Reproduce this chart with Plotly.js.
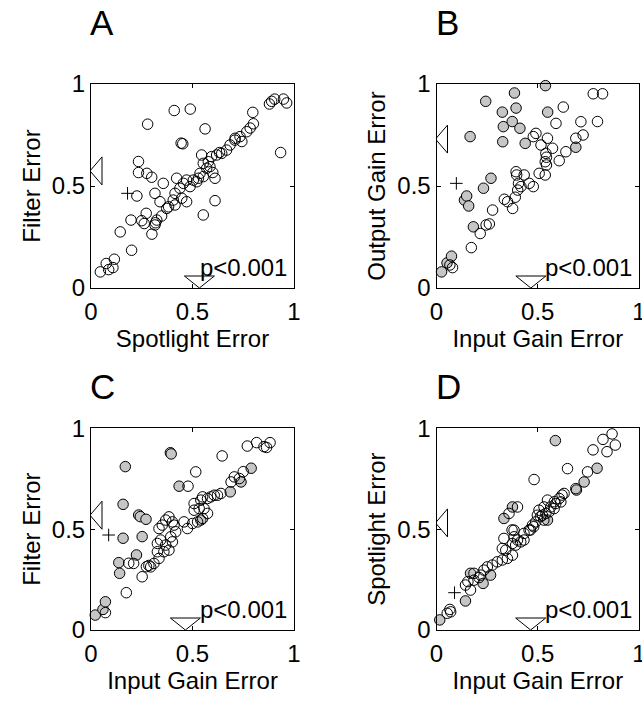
<!DOCTYPE html>
<html>
<head>
<meta charset="utf-8">
<script src="https://cdn.plot.ly/plotly-3.0.1.min.js"></script>
<style>html,body{margin:0;padding:0;background:#fff;}#chart{width:642px;height:702px;}</style>
</head>
<body>
<div id="chart"></div>
<script>
// ---------- data ----------
const panelLetters = ['A', 'B', 'C', 'D'];
const xTitles = ['Spotlight Error', 'Input Gain Error', 'Input Gain Error', 'Input Gain Error'];
const yTitles = ['Filter Error', 'Output Gain Error', 'Filter Error', 'Spotlight Error'];
const pTexts = ['p<0.001', 'p<0.001', 'p<0.001', 'p<0.001'];
const tickVals = [0, 0.5, 1];
const tickText = ['0', '0.5', '1'];

// [x, y] pairs, open circles
const aOpen = [[0.046,0.079],[0.075,0.12],[0.087,0.09],[0.108,0.10],[0.115,0.141],[0.144,0.275],[0.20,0.185],[0.197,0.333],[0.226,0.451],[0.234,0.62],[0.234,0.566],[0.275,0.562],[0.299,0.543],[0.279,0.803],[0.25,0.33],[0.262,0.316],[0.272,0.366],[0.30,0.264],[0.315,0.464],[0.318,0.32],[0.324,0.333],[0.34,0.423],[0.348,0.353],[0.356,0.513],[0.373,0.39],[0.382,0.398],[0.41,0.87],[0.489,0.877],[0.405,0.431],[0.414,0.407],[0.414,0.464],[0.422,0.538],[0.438,0.489],[0.444,0.71],[0.452,0.707],[0.447,0.44],[0.455,0.513],[0.471,0.423],[0.471,0.529],[0.488,0.497],[0.504,0.529],[0.529,0.538],[0.537,0.562],[0.545,0.652],[0.553,0.358],[0.553,0.546],[0.553,0.611],[0.562,0.78],[0.57,0.587],[0.578,0.619],[0.586,0.595],[0.594,0.644],[0.611,0.428],[0.611,0.538],[0.619,0.652],[0.644,0.66],[0.668,0.676],[0.685,0.701],[0.709,0.725],[0.734,0.742],[0.767,0.766],[0.784,0.784],[0.80,0.805],[0.797,0.861],[0.879,0.902],[0.89,0.915],[0.905,0.926],[0.948,0.926],[0.964,0.907],[0.934,0.664],[0.315,0.309],[0.60,0.566],[0.633,0.664],[0.71,0.734],[0.743,0.718],[0.521,0.521]];
const aGrey = [];

const bOpen = [[0.066,0.113],[0.079,0.10],[0.172,0.198],[0.216,0.267],[0.245,0.309],[0.261,0.314],[0.277,0.382],[0.335,0.435],[0.351,0.423],[0.376,0.39],[0.389,0.445],[0.393,0.57],[0.396,0.554],[0.401,0.48],[0.405,0.513],[0.417,0.497],[0.433,0.554],[0.458,0.513],[0.478,0.497],[0.478,0.742],[0.491,0.758],[0.507,0.562],[0.516,0.701],[0.537,0.554],[0.537,0.619],[0.543,0.603],[0.543,0.641],[0.54,0.66],[0.548,0.734],[0.573,0.685],[0.59,0.807],[0.606,0.624],[0.626,0.887],[0.639,0.668],[0.688,0.734],[0.724,0.75],[0.713,0.815],[0.774,0.952],[0.82,0.952],[0.795,0.816]];
const bGrey = [[0.025,0.079],[0.052,0.123],[0.074,0.156],[0.138,0.431],[0.149,0.451],[0.159,0.402],[0.166,0.742],[0.182,0.30],[0.232,0.489],[0.243,0.915],[0.269,0.538],[0.325,0.862],[0.327,0.717],[0.33,0.791],[0.374,0.816],[0.385,0.956],[0.393,0.882],[0.412,0.783],[0.438,0.709],[0.538,0.992],[0.549,0.862],[0.688,0.69]];

const cOpen = [[0.071,0.086],[0.174,0.185],[0.186,0.331],[0.21,0.33],[0.252,0.264],[0.273,0.314],[0.285,0.32],[0.294,0.313],[0.31,0.33],[0.335,0.355],[0.327,0.388],[0.359,0.388],[0.384,0.396],[0.368,0.421],[0.327,0.429],[0.343,0.446],[0.401,0.437],[0.393,0.462],[0.417,0.487],[0.335,0.503],[0.351,0.52],[0.368,0.545],[0.409,0.52],[0.401,0.536],[0.384,0.561],[0.458,0.536],[0.475,0.503],[0.5,0.528],[0.525,0.536],[0.55,0.553],[0.574,0.578],[0.557,0.602],[0.533,0.602],[0.508,0.594],[0.508,0.627],[0.541,0.644],[0.55,0.66],[0.574,0.652],[0.59,0.66],[0.607,0.668],[0.623,0.668],[0.64,0.677],[0.69,0.734],[0.706,0.759],[0.731,0.751],[0.75,0.785],[0.478,0.713],[0.516,0.784],[0.646,0.863],[0.77,0.912],[0.816,0.929],[0.852,0.909],[0.865,0.905],[0.882,0.929]];
const cGrey = [[0.021,0.074],[0.059,0.102],[0.071,0.14],[0.137,0.334],[0.141,0.281],[0.158,0.455],[0.158,0.623],[0.169,0.81],[0.224,0.372],[0.235,0.57],[0.243,0.562],[0.271,0.549],[0.252,0.463],[0.391,0.879],[0.395,0.873],[0.434,0.713],[0.686,0.685],[0.789,0.802],[0.739,0.734],[0.541,0.545]];

const dOpen = [[0.053,0.083],[0.066,0.102],[0.07,0.09],[0.143,0.223],[0.168,0.198],[0.155,0.24],[0.185,0.247],[0.185,0.281],[0.21,0.26],[0.218,0.272],[0.234,0.297],[0.251,0.313],[0.276,0.322],[0.3,0.338],[0.325,0.347],[0.35,0.355],[0.375,0.371],[0.342,0.396],[0.325,0.404],[0.333,0.454],[0.375,0.429],[0.391,0.421],[0.4,0.446],[0.416,0.437],[0.432,0.446],[0.383,0.462],[0.383,0.495],[0.432,0.479],[0.457,0.495],[0.474,0.52],[0.49,0.536],[0.498,0.569],[0.523,0.569],[0.54,0.578],[0.556,0.586],[0.581,0.602],[0.506,0.594],[0.531,0.61],[0.564,0.61],[0.548,0.644],[0.589,0.627],[0.614,0.635],[0.606,0.652],[0.63,0.677],[0.688,0.701],[0.358,0.578],[0.4,0.61],[0.482,0.746],[0.647,0.80],[0.746,0.784],[0.773,0.893],[0.822,0.945],[0.867,0.972],[0.842,0.884],[0.883,0.917],[0.373,0.496],[0.464,0.496],[0.48,0.512],[0.513,0.562],[0.53,0.545],[0.62,0.669],[0.582,0.636]];
const dGrey = [[0.016,0.05],[0.143,0.144],[0.168,0.281],[0.23,0.231],[0.267,0.272],[0.333,0.553],[0.375,0.61],[0.548,0.545],[0.587,0.939],[0.691,0.694],[0.729,0.734],[0.793,0.802]];

// "+" marker per panel
const plusX = [0.18, 0.098, 0.087, 0.089];
const plusY = [0.464, 0.513, 0.471, 0.185];
// triangle markers: position on x axis and on y axis
const triX = [0.534, 0.466, 0.465, 0.465];
const triY = [0.574, 0.730, 0.569, 0.531];

// ---------- layout ----------
const FONT = 'Liberation Sans, Arial, Helvetica, sans-serif';
const W = 642, H = 702;
const colDom = [[91 / W, 294 / W], [436.5 / W, 639 / W]];
const rowDom = [[1 - 288 / H, 1 - 84 / H], [1 - 630 / H, 1 - 428.3 / H]];

const openSets = [aOpen, bOpen, cOpen, dOpen];
const greySets = [aGrey, bGrey, cGrey, dGrey];

const traces = [];
const layout = {
  width: W, height: H,
  margin: {l: 0, r: 0, t: 0, b: 0},
  paper_bgcolor: '#fff', plot_bgcolor: '#fff',
  showlegend: false,
  font: {family: FONT, size: 24, color: '#000'},
  annotations: [], shapes: []
};

for (let i = 0; i < 4; i++) {
  const n = i + 1;
  const xk = n === 1 ? 'x' : 'x' + n;
  const yk = n === 1 ? 'y' : 'y' + n;
  const col = i % 2, row = Math.floor(i / 2);
  const axCommon = {
    range: [0, 1], tickmode: 'array', tickvals: tickVals, ticktext: tickText,
    ticks: 'inside', ticklen: 4, tickwidth: 1, tickcolor: '#000',
    showline: true, linecolor: '#000', linewidth: 1, mirror: 'ticks',
    showgrid: false, zeroline: false, fixedrange: true,
    ticklabeloverflow: 'allow',
    tickfont: {family: FONT, size: 24, color: '#000'}
  };
  layout['xaxis' + (n === 1 ? '' : n)] = Object.assign({}, axCommon, {
    domain: colDom[col], anchor: yk, ticklabelstandoff: 2,
    title: {text: xTitles[i], font: {family: FONT, size: 24, color: '#000'}, standoff: 4}
  });
  layout['yaxis' + (n === 1 ? '' : n)] = Object.assign({}, axCommon, {
    domain: rowDom[row], anchor: xk,
    title: {text: yTitles[i], font: {family: FONT, size: 24, color: '#000'}, standoff: 4}
  });

  const g = greySets[i];
  if (g.length) {
    traces.push({
      type: 'scatter', mode: 'markers', xaxis: xk, yaxis: yk,
      x: g.map(p => p[0]), y: g.map(p => p[1]),
      marker: {symbol: 'circle', size: 10.5, color: '#c6c6c6', line: {color: '#000', width: 1}},
      cliponaxis: false, hoverinfo: 'skip'
    });
  }
  const o = openSets[i];
  traces.push({
    type: 'scatter', mode: 'markers', xaxis: xk, yaxis: yk,
    x: o.map(p => p[0]), y: o.map(p => p[1]),
    marker: {symbol: 'circle-open', size: 10.5, color: '#000', line: {color: '#000', width: 1}},
    cliponaxis: false, hoverinfo: 'skip'
  });
  traces.push({
    type: 'scatter', mode: 'markers', xaxis: xk, yaxis: yk,
    x: [plusX[i]], y: [plusY[i]],
    marker: {symbol: 'cross-thin-open', size: 9, color: '#000', line: {color: '#000', width: 1}},
    cliponaxis: false, hoverinfo: 'skip'
  });

  // triangle on the x axis (pointing down) and on the y axis (pointing left)
  layout.shapes.push({
    type: 'path', xref: xk, yref: yk, xsizemode: 'pixel', ysizemode: 'pixel',
    xanchor: triX[i], yanchor: 0,
    path: 'M-15,12 L15,12 L0,0 Z',
    line: {color: '#000', width: 1}, fillcolor: 'rgba(0,0,0,0)'
  });
  layout.shapes.push({
    type: 'path', xref: xk, yref: yk, xsizemode: 'pixel', ysizemode: 'pixel',
    xanchor: 0, yanchor: triY[i],
    path: 'M-1,0 L11,14 L11,-14 Z',
    line: {color: '#000', width: 1}, fillcolor: 'rgba(0,0,0,0)'
  });

  layout.annotations.push({
    xref: xk, yref: yk, x: 0.975, y: 0.1, xanchor: 'right', yanchor: 'middle',
    text: pTexts[i], showarrow: false, font: {family: FONT, size: 24, color: '#000'}
  });
  layout.annotations.push({
    xref: 'paper', yref: 'paper',
    x: colDom[col][0] - 3 / W, y: rowDom[row][1] + (row === 0 ? 61 : 42) / H,
    xanchor: 'left', yanchor: 'middle',
    text: panelLetters[i], showarrow: false, font: {family: FONT, size: 35, color: '#000'}
  });
}

Plotly.newPlot('chart', traces, layout, {staticPlot: true, displayModeBar: false});
</script>
</body>
</html>
